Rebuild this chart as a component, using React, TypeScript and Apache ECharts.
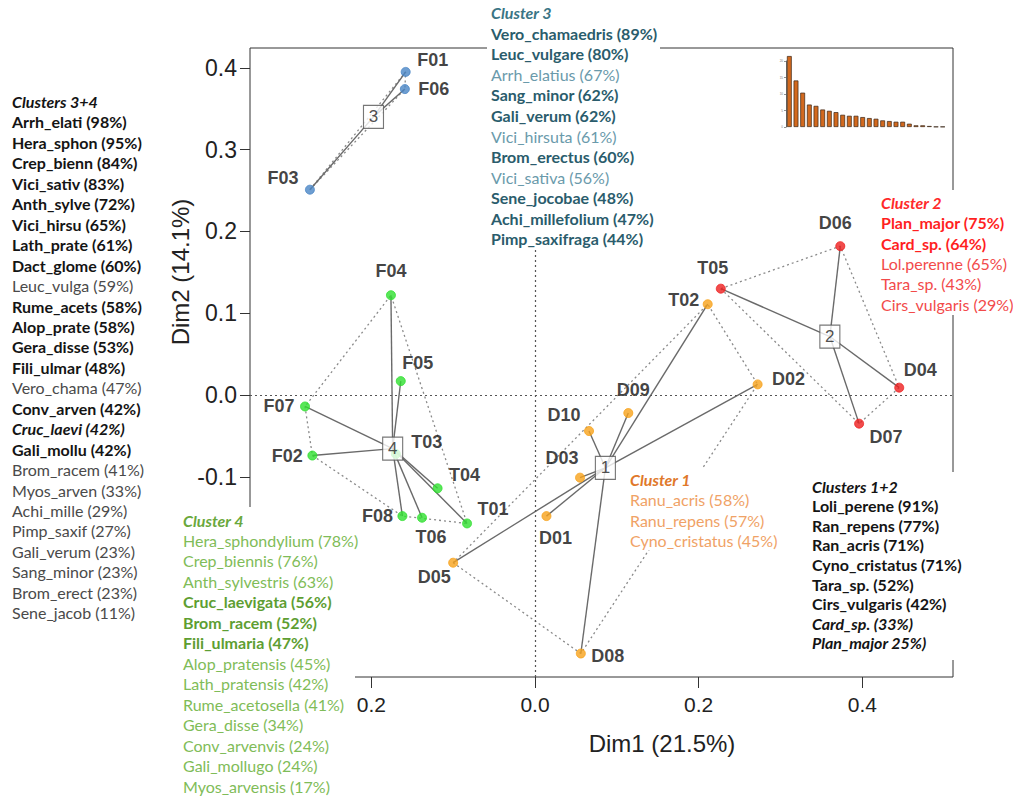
import React, { useEffect, useRef } from 'react';
import * as echarts from 'echarts';

// ---------- data ----------
const cl1Names = ['T02', 'D02', 'D09', 'D10', 'D03', 'D01', 'D08', 'D05'];
const cl1X = [0.211, 0.272, 0.114, 0.066, 0.055, 0.014, 0.056, -0.1];
const cl1Y = [0.111, 0.013, -0.022, -0.044, -0.101, -0.148, -0.316, -0.205];

const cl2Names = ['T05', 'D06', 'D04', 'D07'];
const cl2X = [0.227, 0.373, 0.445, 0.396];
const cl2Y = [0.13, 0.182, 0.009, -0.035];

const cl3Names = ['F01', 'F06', 'F03'];
const cl3X = [-0.158, -0.159, -0.275];
const cl3Y = [0.395, 0.374, 0.251];

const cl4Names = ['F04', 'F05', 'F07', 'F02', 'T03', 'T04', 'F08', 'T06', 'T01'];
const cl4X = [-0.176, -0.164, -0.281, -0.272, -0.17, -0.119, -0.162, -0.138, -0.083];
const cl4Y = [0.122, 0.017, -0.014, -0.074, -0.072, -0.114, -0.148, -0.15, -0.157];

const screeDims = ['1','2','3','4','5','6','7','8','9','10','11','12','13','14','15','16','17','18','19','20','21','22','23','24'];
const screeValues = [21.5, 14.1, 10.4, 6.8, 6.4, 5.3, 4.9, 4.5, 3.7, 3.4, 3.4, 3.0, 2.7, 2.5, 2.0, 1.8, 1.6, 1.6, 1.0, 0.5, 0.5, 0.3, 0.1, 0.1];

const xTicks = [-0.2, 0, 0.2, 0.4];
const yTicks = [-0.1, 0, 0.1, 0.2, 0.3, 0.4];

const leftTitle = 'Clusters 3+4';
const leftItems = ['Arrh_elati (98%)', 'Hera_sphon (95%)', 'Crep_bienn (84%)', 'Vici_sativ (83%)', 'Anth_sylve (72%)', 'Vici_hirsu (65%)', 'Lath_prate (61%)', 'Dact_glome (60%)', 'Leuc_vulga (59%)', 'Rume_acets (58%)', 'Alop_prate (58%)', 'Gera_disse (53%)', 'Fili_ulmar (48%)', 'Vero_chama (47%)', 'Conv_arven (42%)', 'Cruc_laevi (42%)', 'Gali_mollu (42%)', 'Brom_racem (41%)', 'Myos_arven (33%)', 'Achi_mille (29%)', 'Pimp_saxif (27%)', 'Gali_verum (23%)', 'Sang_minor (23%)', 'Brom_erect (23%)', 'Sene_jacob (11%)'];
const leftWeights = ['b','b','b','b','b','b','b','b','n','b','b','b','b','n','b','bi','b','n','n','n','n','n','n','n','n'];

const c3Title = 'Cluster 3';
const c3Items = ['Vero_chamaedris (89%)', 'Leuc_vulgare (80%)', 'Arrh_elatius (67%)', 'Sang_minor (62%)', 'Gali_verum (62%)', 'Vici_hirsuta (61%)', 'Brom_erectus (60%)', 'Vici_sativa (56%)', 'Sene_jocobae (48%)', 'Achi_millefolium (47%)', 'Pimp_saxifraga (44%)'];
const c3Weights = ['b','b','n','b','b','n','b','n','b','b','b'];

const c2Title = 'Cluster 2';
const c2Items = ['Plan_major (75%)', 'Card_sp. (64%)', 'Lol.perenne (65%)', 'Tara_sp. (43%)', 'Cirs_vulgaris (29%)'];
const c2Weights = ['b','b','n','n','n'];

const c1Title = 'Cluster 1';
const c1Items = ['Ranu_acris (58%)', 'Ranu_repens (57%)', 'Cyno_cristatus (45%)'];
const c1Weights = ['n','n','n'];

const c12Title = 'Clusters 1+2';
const c12Items = ['Loli_perene (91%)', 'Ran_repens (77%)', 'Ran_acris (71%)', 'Cyno_cristatus (71%)', 'Tara_sp. (52%)', 'Cirs_vulgaris (42%)', 'Card_sp. (33%)', 'Plan_major 25%)'];
const c12Weights = ['b','b','b','b','b','b','bi','bi'];

const c4Title = 'Cluster 4';
const c4Items = ['Hera_sphondylium (78%)', 'Crep_biennis (76%)', 'Anth_sylvestris (63%)', 'Cruc_laevigata (56%)', 'Brom_racem (52%)', 'Fili_ulmaria (47%)', 'Alop_pratensis (45%)', 'Lath_pratensis (42%)', 'Rume_acetosella (41%)', 'Gera_disse (34%)', 'Conv_arvenvis (24%)', 'Gali_mollugo (24%)', 'Myos_arvensis (17%)'];
const c4Weights = ['n','n','n','b','b','b','n','n','n','n','n','n','n'];

// ---------- layout / style ----------
const labelOffsets: Record<string, [number, number]> = {
  F01: [27, -12], F06: [29, 0], F03: [-27, -12],
  F04: [0, -24], F05: [17, -18], F07: [-26, 0], F02: [-25, 0], T03: [31, -12],
  T04: [27, -13], F08: [-25, 0], T06: [9, 19], T01: [26, -14],
  T02: [-24, -4], T05: [-8, -21], D02: [31, -5], D09: [5, -23], D10: [-25, -16],
  D03: [-18, -20], D01: [9, 22], D08: [27, 2], D05: [-19, 14],
  D06: [-5, -23], D04: [21, -18], D07: [27, 13],
};

const clusterColors = ['#F7A21B', '#EE1F1F', '#4A86C5', '#2FE02F'];
const LIST_FONT = 'Lato, "Open Sans", sans-serif';
const PLOT_FONT = '"Liberation Sans", Arial, sans-serif';
const LIST_SIZE = 16;

function hull(pts: number[][]) {
  const p = pts.slice().sort((a, b) => a[0] - b[0] || a[1] - b[1]);
  const cross = (o: number[], a: number[], b: number[]) => (a[0] - o[0]) * (b[1] - o[1]) - (a[1] - o[1]) * (b[0] - o[0]);
  const lower: number[][] = [];
  for (const q of p) { while (lower.length >= 2 && cross(lower[lower.length - 2], lower[lower.length - 1], q) <= 0) lower.pop(); lower.push(q); }
  const upper: number[][] = [];
  for (let i = p.length - 1; i >= 0; i--) { const q = p[i]; while (upper.length >= 2 && cross(upper[upper.length - 2], upper[upper.length - 1], q) <= 0) upper.pop(); upper.push(q); }
  upper.pop(); lower.pop();
  const h = lower.concat(upper);
  h.push(h[0]);
  return h;
}

function textBlock(x: number, y0: number, step: number, title: string, items: string[], weights: string[], colors: { t: string; b: string; n: string }, size: number) {
  const els: any[] = [];
  els.push({ type: 'text', x, y: y0, z: 101, style: { text: title, fill: colors.t, fontFamily: LIST_FONT, fontSize: size, fontWeight: 'bold', fontStyle: 'italic', align: 'left', verticalAlign: 'middle' } });
  items.forEach((t, i) => {
    const w = weights[i];
    els.push({ type: 'text', x, y: y0 + step * (i + 1), z: 101, style: { text: t, fill: w === 'n' ? colors.n : colors.b, fontFamily: LIST_FONT, fontSize: size, fontWeight: w === 'n' ? 'normal' : 'bold', fontStyle: w === 'bi' ? 'italic' : 'normal', align: 'left', verticalAlign: 'middle' } });
  });
  return els;
}

function whiteRect(x: number, y: number, w: number, h: number) {
  return { type: 'rect', z: 100, shape: { x, y, width: w, height: h }, style: { fill: '#ffffff' } };
}

export default function App() {
  const ref = useRef<HTMLDivElement>(null);
  useEffect(() => {
    document.body.style.margin = '0';
    if (!ref.current) return;
    const chart = echarts.init(ref.current, undefined, { renderer: 'svg' });

    const clusters = [
      { names: cl1Names, xs: cl1X, ys: cl1Y },
      { names: cl2Names, xs: cl2X, ys: cl2Y },
      { names: cl3Names, xs: cl3X, ys: cl3Y },
      { names: cl4Names, xs: cl4X, ys: cl4Y },
    ];

    const series: any[] = [];
    const centers: any[] = [];
    clusters.forEach((c, ci) => {
      const pts = c.xs.map((x, i) => [x, c.ys[i]]);
      const mx = c.xs.reduce((a, b) => a + b, 0) / c.xs.length;
      const my = c.ys.reduce((a, b) => a + b, 0) / c.ys.length;
      centers.push({ name: String(ci + 1), value: [mx, my] });
      series.push({
        type: 'line', data: hull(pts), symbol: 'none', silent: true, z: 2,
        lineStyle: { color: '#8a8a8a', width: 1.3, type: [2, 3] },
      });
      series.push({
        type: 'lines', coordinateSystem: 'cartesian2d', silent: true, z: 3,
        data: pts.map((p) => ({ coords: [[mx, my], p] })),
        lineStyle: { color: '#6a6a6a', width: 1.4, opacity: 1, curveness: 0 },
      });
      series.push({
        type: 'scatter', z: 4, symbol: 'circle', symbolSize: 9,
        itemStyle: { color: clusterColors[ci], borderColor: clusterColors[ci] },
        data: c.names.map((n, i) => ({ name: n, value: pts[i], label: { offset: labelOffsets[n] } })),
        label: { show: true, position: 'inside', formatter: (p: any) => p.name, fontFamily: PLOT_FONT, fontSize: 18, fontWeight: 'bold', color: '#111' },
      });
    });
    series.push({
      type: 'scatter', z: 6, symbol: 'rect', symbolSize: [20, 23], data: centers,
      itemStyle: { color: '#ffffff', borderColor: '#555', borderWidth: 1.2 },
      label: { show: true, position: 'inside', formatter: (p: any) => p.name, fontFamily: PLOT_FONT, fontSize: 17, color: '#222' },
    });
    // reference lines
    series.push({
      type: 'line', data: [], z: 1,
      markLine: { silent: true, symbol: 'none', label: { show: false }, lineStyle: { color: '#555', width: 1.2, type: [2, 3] }, data: [{ xAxis: 0 }, { yAxis: 0 }] },
    });
    // scree inset
    series.push({
      type: 'bar', xAxisIndex: 1, yAxisIndex: 1, data: screeValues, barWidth: 4.8, clip: false,
      itemStyle: { color: '#D2691E', borderColor: '#3a2515', borderWidth: 0.7 },
    });

    const graphic: any[] = [
      whiteRect(487, 0, 173, 250),
      whiteRect(876, 190, 137, 125),
      whiteRect(625, 468, 150, 82),
      whiteRect(805, 472, 208, 188),
      whiteRect(175, 507, 180, 290),
      ...textBlock(12, 101.5, 20.45, leftTitle, leftItems, leftWeights, { t: '#141414', b: '#141414', n: '#4a4a4a' }, LIST_SIZE),
      ...textBlock(491, 12.7, 20.57, c3Title, c3Items, c3Weights, { t: '#3a7585', b: '#2a5c6c', n: '#6a9aab' }, LIST_SIZE),
      ...textBlock(881, 202.3, 20.4, c2Title, c2Items, c2Weights, { t: '#ff2a2a', b: '#ff1f1f', n: '#f24a4a' }, LIST_SIZE),
      ...textBlock(630, 479.5, 20.3, c1Title, c1Items, c1Weights, { t: '#e0782a', b: '#e08a3a', n: '#f0a266' }, LIST_SIZE),
      ...textBlock(812, 486, 19.6, c12Title, c12Items, c12Weights, { t: '#141414', b: '#141414', n: '#141414' }, LIST_SIZE),
      ...textBlock(183, 520, 20.48, c4Title, c4Items, c4Weights, { t: '#6aa83c', b: '#5e9e32', n: '#7fbc58' }, LIST_SIZE),
      { type: 'text', x: 662, y: 743, z: 101, style: { text: 'Dim1 (21.5%)', fill: '#222', fontFamily: PLOT_FONT, fontSize: 24, align: 'center', verticalAlign: 'middle' } },
      { type: 'text', x: 180, y: 272, z: 101, rotation: Math.PI / 2, style: { text: 'Dim2 (14.1%)', fill: '#222', fontFamily: PLOT_FONT, fontSize: 24, align: 'center', verticalAlign: 'middle' } },
    ];

    chart.setOption({
      animation: false,
      backgroundColor: '#ffffff',
      grid: [
        { left: 250, top: 48, width: 703, height: 629, show: true, borderColor: '#333', borderWidth: 1, backgroundColor: 'transparent' },
        { left: 786, top: 61, width: 160, height: 66, show: false },
      ],
      xAxis: [
        {
          type: 'value', gridIndex: 0, min: -0.3482, max: 0.5107, position: 'bottom',
          axisLine: { show: false, onZero: false }, splitLine: { show: false },
          axisTick: { show: true, length: 11, customValues: xTicks, lineStyle: { color: '#333' } },
          axisLabel: { customValues: xTicks, formatter: (v: number) => Math.abs(v).toFixed(1), fontFamily: PLOT_FONT, fontSize: 21, color: '#222', margin: 17 },
        },
        {
          type: 'category', gridIndex: 1, data: screeDims,
          axisLine: { show: false, onZero: false }, axisTick: { show: false }, axisLabel: { show: false },
        },
      ],
      yAxis: [
        {
          type: 'value', gridIndex: 0, min: -0.3447, max: 0.4242, position: 'left',
          axisLine: { show: false, onZero: false }, splitLine: { show: false },
          axisTick: { show: true, length: 10, customValues: yTicks, lineStyle: { color: '#333' } },
          axisLabel: { customValues: yTicks, formatter: (v: number) => v.toFixed(1), fontFamily: PLOT_FONT, fontSize: 23, color: '#222', margin: 13 },
        },
        {
          type: 'value', gridIndex: 1, min: 0, max: 20, interval: 5,
          axisLine: { show: true, onZero: false, lineStyle: { color: '#444', width: 0.8 } }, splitLine: { show: false },
          axisTick: { show: true, length: 2, lineStyle: { color: '#444', width: 0.6 } },
          axisLabel: { fontSize: 3, color: '#777', margin: 3 },
        },
      ],
      series,
      graphic,
    });
    return () => chart.dispose();
  }, []);
  return <div ref={ref} style={{ width: 1013, height: 797 }} />;
}
